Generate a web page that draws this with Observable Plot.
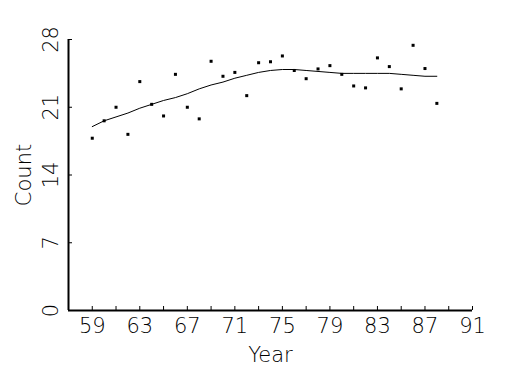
<!DOCTYPE html>
<html>
<head>
<meta charset="utf-8">
<script src="https://cdn.jsdelivr.net/npm/d3@7"></script>
<script src="https://cdn.jsdelivr.net/npm/@observablehq/plot@0.6"></script>
<style>
  html, body { margin: 0; padding: 0; background: #fff; }
  svg { font-family: "DejaVu Sans", sans-serif; font-weight: 200; }
</style>
</head>
<body>
<div id="chart"></div>
<script>
const years = [59,60,61,62,63,64,65,66,67,68,69,70,71,72,73,74,75,76,77,78,79,80,81,82,83,84,85,86,87,88];
const counts = [17.8,19.6,21.0,18.2,23.65,21.3,20.1,24.4,21.0,19.8,25.75,24.2,24.6,22.2,25.6,25.7,26.3,24.8,23.95,24.96,25.3,24.4,23.2,23.0,26.1,25.2,22.9,27.4,25.0,21.4];
const smooth = [19.0,19.6,20.0,20.4,20.9,21.3,21.7,22.0,22.4,22.9,23.3,23.6,24.0,24.3,24.6,24.8,24.9,24.9,24.8,24.7,24.6,24.5,24.5,24.5,24.5,24.5,24.4,24.3,24.2,24.2];
const xMinorTicks = [59,61,63,65,67,69,71,73,75,77,79,81,83,85,87,89,91];
const xLabelTicks = [59,63,67,71,75,79,83,87,91];
const yTicks = [0,7,14,21,28];

const pts = years.map((y,i) => ({year: y, count: counts[i]}));
const line = years.map((y,i) => ({year: y, count: smooth[i]}));

const chart = Plot.plot({
  width: 525,
  height: 375,
  marginLeft: 68,
  marginRight: 53,
  marginTop: 39,
  marginBottom: 65,
  style: {fontSize: "21px", fontFamily: "'DejaVu Sans', sans-serif", fontWeight: 200, color: "#000", background: "#fff"},
  x: {domain: [57, 91]},
  y: {domain: [0, 28]},
  marks: [
    Plot.axisX({ticks: xMinorTicks, tickSize: -4, tickFormat: () => "", label: null}),
    Plot.axisX({ticks: xLabelTicks, tickSize: 0, tickPadding: 8, tickFormat: d => String(d), label: null, fontSize: 21, letterSpacing: 1}),
    Plot.axisY({ticks: yTicks, tickSize: -4, tickFormat: () => "", label: null}),
    Plot.text(yTicks, {y: d => d, frameAnchor: "left", dx: -17, rotate: -90, text: d => String(d), textAnchor: "middle", lineAnchor: "middle", fontSize: 21}),
    Plot.text(["Count"], {frameAnchor: "left", dx: -44, rotate: -90, text: d => d, textAnchor: "middle", lineAnchor: "middle", fontSize: 21}),
    Plot.text(["Year"], {frameAnchor: "bottom", dy: 45, text: d => d, textAnchor: "middle", lineAnchor: "middle", fontSize: 21, letterSpacing: 2}),
    Plot.ruleX([57], {strokeWidth: 2, stroke: "#000"}),
    Plot.ruleY([0], {strokeWidth: 2, stroke: "#000"}),
    Plot.line(line, {x: "year", y: "count", stroke: "#000", strokeWidth: 1}),
    Plot.dot(pts, {x: "year", y: "count", symbol: "square", r: 1.7, fill: "#000", stroke: "none"})
  ]
});
document.getElementById("chart").appendChild(chart);
</script>
</body>
</html>
